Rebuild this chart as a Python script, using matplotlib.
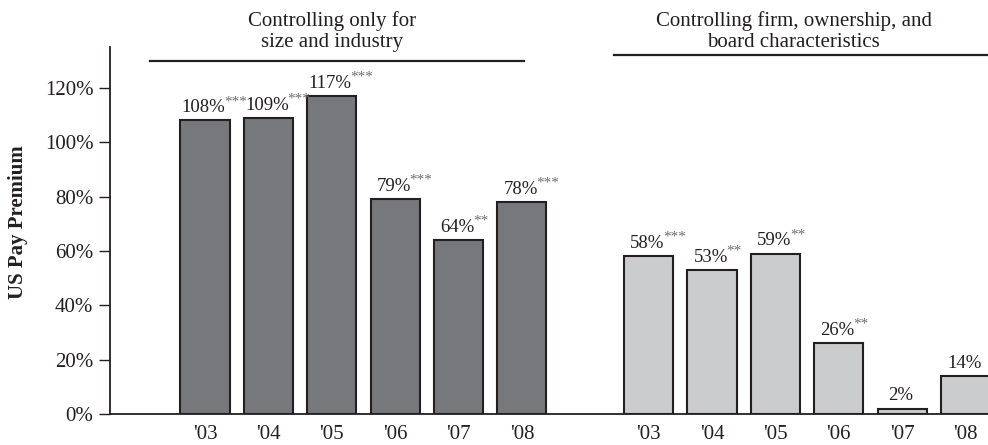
import matplotlib
matplotlib.use("Agg")
import matplotlib.pyplot as plt
import numpy as np

plt.rcParams['font.family'] = ['Liberation Serif', 'DejaVu Serif']

# data
years = ["'03", "'04", "'05", "'06", "'07", "'08"]
premium_size = [108, 109, 117, 79, 64, 78]
stars_size = ['***', '***', '***', '***', '**', '***']
premium_full = [58, 53, 59, 26, 2, 14]
stars_full = ['***', '**', '**', '**', '', '']
header_size = 'Controlling only for\nsize and industry'
header_full = 'Controlling firm, ownership, and\nboard characteristics'

dark = '#231f20'
col_size = '#77787b'
col_full = '#cbcccd'
star_col = '#6d6e70'

fig = plt.figure(figsize=(9.88, 4.45), dpi=100)
ax = fig.add_axes([0.1113, 0.0697, 0.8887, 0.8247])

x1 = np.arange(len(years))
x2 = np.arange(len(years)) + len(years) + 1
w = 0.774

ax.bar(x1, premium_size, width=w, color=col_size, edgecolor=dark, linewidth=1.5)
ax.bar(x2, premium_full, width=w, color=col_full, edgecolor=dark, linewidth=1.5)


def label_bars(xs, vals, stars):
    for xi, v, s in zip(xs, vals, stars):
        t = ax.annotate(f'{v}%', xy=(xi, v), xytext=(-1, 3), textcoords='offset points',
                        ha='center', va='bottom', fontsize=13.5, color=dark)
        if s:
            ax.annotate(s, xy=(1, 1), xycoords=t, xytext=(-1, 3), textcoords='offset points',
                        ha='left', va='top', fontsize=11, color=star_col)


label_bars(x1, premium_size, stars_size)
label_bars(x2, premium_full, stars_full)

ax.set_xlim(-1.5, 12.355)
ax.set_ylim(0, 135)
ax.set_yticks(np.arange(0, 121, 20))
ax.set_yticklabels([f'{v}%' for v in range(0, 121, 20)])
ax.set_xticks(np.concatenate([x1, x2]))
ax.set_xticklabels(years + years)

for side in ['top', 'right']:
    ax.spines[side].set_visible(False)
for side in ['left', 'bottom']:
    ax.spines[side].set_color(dark)
    ax.spines[side].set_linewidth(1.3)

ax.tick_params(axis='y', length=8, width=1, color=dark, pad=4, labelsize=15, labelcolor=dark)
ax.tick_params(axis='x', length=0, pad=8, labelsize=15, labelcolor=dark)

ax.text(-0.105, 0.524, 'US Pay Premium', rotation=90, ha='center', va='center',
        transform=ax.transAxes, fontsize=15, fontweight='bold', color=dark)

# group headers with rule underneath
ax.plot([-0.873, 5.03], [129.7, 129.7], color=dark, linewidth=1.6, clip_on=False)
ax.plot([6.45, 13], [131.9, 131.9], color=dark, linewidth=1.6)
ax.text(2.01, 133.0, header_size, ha='center', va='bottom', fontsize=15,
        linespacing=1.2, color=dark, clip_on=False)
ax.text(9.29, 133.0, header_full, ha='center', va='bottom', fontsize=15,
        linespacing=1.2, color=dark, clip_on=False)

fig.savefig('out.png', dpi=100)
